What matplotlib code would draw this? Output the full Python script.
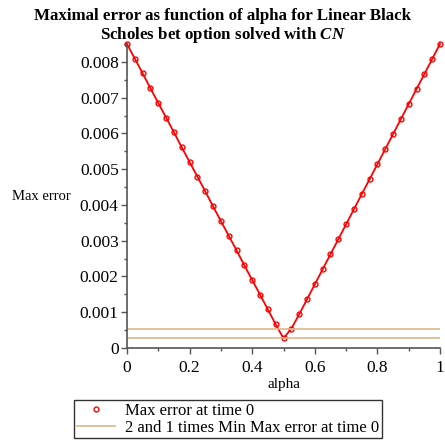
import numpy as np
import matplotlib
matplotlib.use('Agg')
import matplotlib.pyplot as plt
from matplotlib.ticker import MultipleLocator
from matplotlib.lines import Line2D

plt.rcParams['font.family'] = ['Liberation Serif', 'DejaVu Serif']
plt.rcParams['mathtext.fontset'] = 'custom'
plt.rcParams['mathtext.it'] = 'Liberation Serif:italic:bold'

# alpha values and maximal error at time 0
alpha = [0.0, 0.025, 0.05, 0.075, 0.1, 0.125, 0.15, 0.175, 0.2, 0.225,
         0.25, 0.275, 0.3, 0.325, 0.35, 0.375, 0.4, 0.425, 0.45, 0.475,
         0.5, 0.525, 0.55, 0.575, 0.6, 0.625, 0.65, 0.675, 0.7, 0.725,
         0.75, 0.775, 0.8, 0.825, 0.85, 0.875, 0.9, 0.925, 0.95, 0.975, 1.0]
max_error = [0.00850, 0.00809, 0.00768, 0.00726, 0.00685, 0.00644, 0.00603,
             0.00561, 0.00520, 0.00479, 0.00438, 0.00396, 0.00355, 0.00314,
             0.00273, 0.00231, 0.00190, 0.00149, 0.00108, 0.00066, 0.00027,
             0.00054, 0.00094, 0.00136, 0.00178, 0.00220, 0.00262, 0.00304,
             0.00346, 0.00388, 0.00430, 0.00472, 0.00514, 0.00556, 0.00598,
             0.00640, 0.00682, 0.00724, 0.00766, 0.00808, 0.00850]
ref_levels = [0.00054, 0.00027]  # 2 and 1 times min max error

fig = plt.figure(figsize=(4.45, 4.42), dpi=100)
ax = fig.add_axes([127/445, 1 - 348/442, 313/445, (348 - 44)/442])

ax.plot(alpha, max_error, color='red', lw=1.3, marker='o', ms=3.5,
        mfc='none', mec='red', mew=1.0, clip_on=False)
for lev in ref_levels:
    ax.plot([0, 1], [lev, lev], color='#DEB887', lw=1.2)

ax.set_xlim(0, 1)
ax.set_ylim(0, 0.0085)
ax.xaxis.set_major_locator(MultipleLocator(0.2))
ax.xaxis.set_minor_locator(MultipleLocator(0.1))
ax.yaxis.set_major_locator(MultipleLocator(0.001))
ax.yaxis.set_minor_locator(MultipleLocator(0.0005))
ax.xaxis.set_major_formatter(plt.FuncFormatter(lambda v, p: '%g' % round(v, 3)))
ax.yaxis.set_major_formatter(plt.FuncFormatter(lambda v, p: '0' if abs(v) < 1e-9 else '%.3f' % v))

for s in ['top', 'right']:
    ax.spines[s].set_visible(False)
for s in ['left', 'bottom']:
    ax.spines[s].set_color('#555555')
    ax.spines[s].set_linewidth(1.2)
ax.tick_params(which='major', length=4, width=1, color='#555555', labelsize=12.5)
ax.tick_params(axis='x', which='major', pad=5)
ax.tick_params(axis='y', which='major', pad=2)
ax.tick_params(which='minor', length=2, width=1, color='#555555')

ax.set_xlabel('alpha', fontsize=11, labelpad=1)
ax.text(-0.272, 0.497, 'Max error', transform=ax.transAxes, fontsize=10.5,
        ha='center', va='center')
fig.suptitle('Maximal error as function of alpha for Linear Black\nScholes bet option solved with $\\mathit{CN}$',
             fontsize=12.2, fontweight='bold', y=0.982, linespacing=1.1)

handles = [Line2D([], [], ls='none', marker='o', ms=3.5, mfc='none', mec='red', mew=1.0),
           Line2D([], [], color='#DEB887', lw=1.2)]
labels = ['Max error at time 0', '2 and 1 times Min Max error at time 0']
leg = fig.legend(handles, labels, loc='lower center', bbox_to_anchor=(228/445, 4/442), fontsize=12,
                 frameon=True, fancybox=False, edgecolor='black', handlelength=2.3,
                 borderpad=0.15, labelspacing=0.05, handletextpad=0.6, borderaxespad=0)
leg.get_frame().set_linewidth(1.0)

fig.savefig('out.png', dpi=100)
